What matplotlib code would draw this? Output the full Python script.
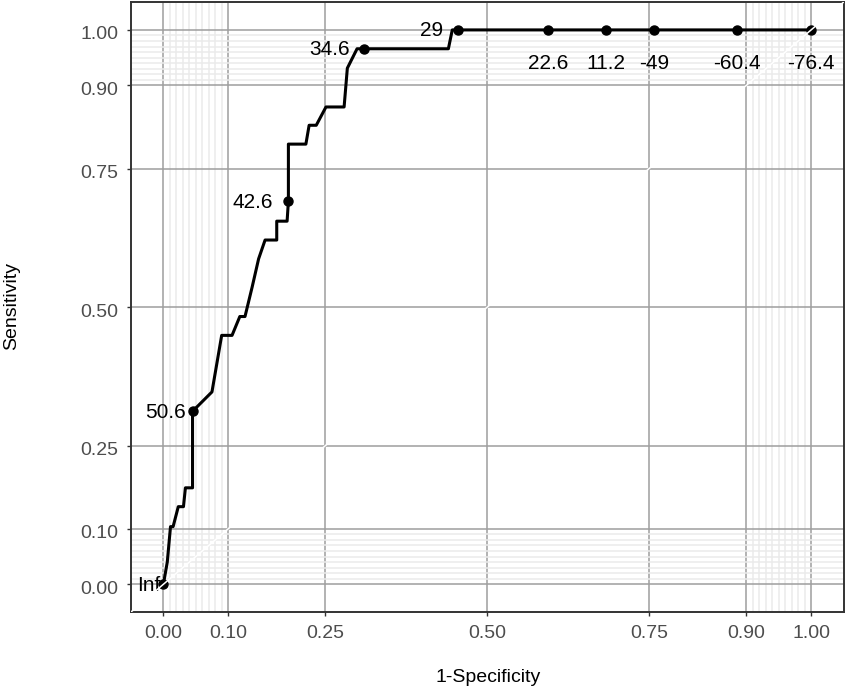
import matplotlib.pyplot as plt
import matplotlib.transforms as mtransforms
import numpy as np

plt.rcParams['font.family'] = ['Liberation Sans', 'DejaVu Sans']

# ROC path: 1-specificity vs sensitivity
fpr = [0.000, 0.006, 0.011, 0.015, 0.023, 0.031, 0.034, 0.045, 0.045, 0.075,
       0.090, 0.106, 0.118, 0.126, 0.137, 0.147, 0.157, 0.175, 0.175, 0.191,
       0.193, 0.193, 0.220, 0.225, 0.236, 0.251, 0.279, 0.284, 0.299, 0.310,
       0.440, 0.446, 0.455, 0.594, 0.683, 0.757, 0.886, 1.000]
tpr = [0.000, 0.040, 0.104, 0.104, 0.140, 0.140, 0.174, 0.174, 0.312, 0.347,
       0.449, 0.449, 0.483, 0.483, 0.536, 0.587, 0.621, 0.621, 0.655, 0.655,
       0.691, 0.794, 0.794, 0.828, 0.828, 0.861, 0.861, 0.931, 0.966, 0.966,
       0.966, 1.000, 1.000, 1.000, 1.000, 1.000, 1.000, 1.000]

# labelled cutoffs
cut_fpr = [0.000, 0.045, 0.193, 0.310, 0.455, 0.594, 0.683, 0.757, 0.886, 1.000]
cut_tpr = [0.000, 0.312, 0.691, 0.966, 1.000, 1.000, 1.000, 1.000, 1.000, 1.000]
cut_lab = ['Inf', '50.6', '42.6', '34.6', '29', '22.6', '11.2', '-49', '-60.4', '-76.4']

breaks = [0, 0.1, 0.25, 0.5, 0.75, 0.9, 1]
break_lab = ['0.00', '0.10', '0.25', '0.50', '0.75', '0.90', '1.00']
minor = [0.01, 0.02, 0.03, 0.04, 0.05, 0.06, 0.07, 0.08, 0.09,
         0.91, 0.92, 0.93, 0.94, 0.95, 0.96, 0.97, 0.98, 0.99]

# label offsets (pixels): left of point or below it
lab_off = [(-3, -1), (-7, -1), (-15, -1), (-14, -1), (-15, -1),
           (0, -34), (0, -34), (0, -34), (0, -34), (0, -34)]
lab_ha = ['right'] * 5 + ['center'] * 5

W, H = 846, 689
fig = plt.figure(figsize=(W / 100, H / 100), dpi=100)
ax = fig.add_axes([131 / W, 1 - 612 / H, (843.5 - 131) / W, (612 - 2.2) / H])

ax.set_xlim(-0.05, 1.05)
ax.set_ylim(-0.05, 1.05)
ax.set_xticks(breaks)
ax.set_xticklabels(break_lab)
ax.set_yticks(breaks)
ax.set_yticklabels(break_lab)
ax.set_xticks(minor, minor=True)
ax.set_yticks(minor, minor=True)
ax.tick_params(which='major', length=3, width=1, color='#333333',
               labelsize=14, labelcolor='#4d4d4d', pad=6)
ax.tick_params(which='minor', length=0)

# y tick labels sit a little low in the original
shift = mtransforms.ScaledTranslation(0, -3 / 100, fig.dpi_scale_trans)
for t in ax.get_yticklabels():
    t.set_transform(t.get_transform() + shift)

ax.set_axisbelow(True)
ax.grid(which='minor', color='#ebebeb', lw=1.1)
ax.grid(which='major', color='#9e9e9e', lw=1.1)
for s in ax.spines.values():
    s.set_color('#333333')
    s.set_linewidth(1.4)

ax.plot(fpr, tpr, color='black', lw=2.2, zorder=3)
ax.plot(cut_fpr, cut_tpr, 'o', color='black', ms=6.5, zorder=3)

for x, y, lab, off, ha in zip(cut_fpr, cut_tpr, cut_lab, lab_off, lab_ha):
    ax.annotate(lab, (x, y), xytext=(off[0] * 0.72, off[1] * 0.72),
                textcoords='offset points', ha=ha, va='center',
                fontsize=15, color='black', zorder=4)

# reference guide in the panel colour, drawn on top
ax.axline((0, 0), slope=1, color='white', lw=1.1, zorder=5)

fig.text(488 / W, 1 - 678 / H, '1-Specificity', ha='center', va='center', fontsize=14)
fig.text(12 / W, 1 - 306 / H, 'Sensitivity', ha='center', va='center',
         rotation=90, fontsize=14)

fig.savefig('out.png', dpi=100)
